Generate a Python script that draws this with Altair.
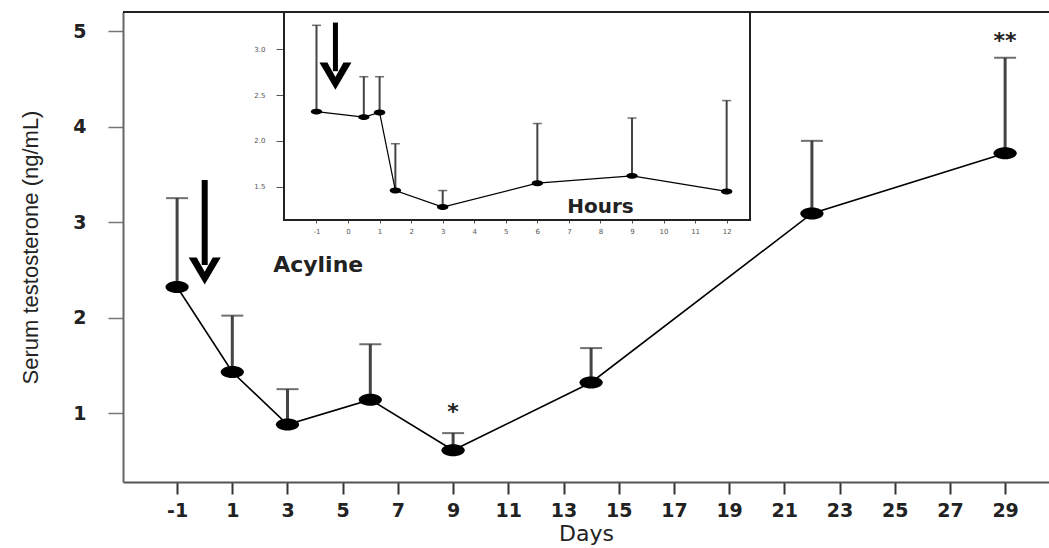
import altair as alt
import pandas as pd

# ---------------- main series (days) ----------------
days = [-1, 1, 3, 6, 9, 14, 22, 29]
testosterone = [2.32, 1.43, 0.88, 1.14, 0.61, 1.32, 3.09, 3.72]
upper_sd = [3.25, 2.02, 1.25, 1.72, 0.79, 1.68, 3.85, 4.72]

x_ticks = list(range(-1, 30, 2))
y_ticks = [1, 2, 3, 4, 5]
x_domain = [-2.96, 30.59]
y_domain = [0.278, 5.199]

sig_days = [9, 29]
sig_vals = [1.01, 4.90]
sig_text = ["*", "**"]

arrow_day = [0]
arrow_top = [3.44]
arrow_end = [2.55]
arrow_head = [2.487]

acyline_day = [2.48]
acyline_val = [2.55]
acyline_text = ["Acyline"]

# ---------------- inset series (hours) ----------------
hours = [-1, 0.5, 1, 1.5, 3, 6, 9, 12]
inset_t = [2.32, 2.26, 2.31, 1.46, 1.28, 1.54, 1.62, 1.45]
inset_upper = [3.26, 2.70, 2.70, 1.97, 1.46, 2.19, 2.25, 2.44]

inset_x_ticks = list(range(-1, 13))
inset_y_ticks = [1.5, 2.0, 2.5, 3.0]
inset_x_domain = [-2.03, 12.74]
inset_y_domain = [1.139, 3.405]

inset_arrow_hour = [-0.4]
inset_arrow_top = [3.29]
inset_arrow_end = [2.76]
inset_arrow_head = [2.706]

hours_label_x = [8]
hours_label_y = [1.28]

ELLIPSE = "M -1 0 A 1 0.52 0 1 1 1 0 A 1 0.52 0 1 1 -1 0 Z"
ARROWHEAD = "M -1 -0.85 L -0.5 -0.85 L 0 0.05 L 0.5 -0.85 L 1 -0.85 L 0 0.85 Z"
MINUS = "datum.value < 0 ? '-' + abs(datum.value) : datum.label"

# ---------------- main layer ----------------
df = pd.DataFrame({"day": days, "t": testosterone, "up": upper_sd})
xs = alt.Scale(domain=x_domain, nice=False, zero=False)
ys = alt.Scale(domain=y_domain, nice=False, zero=False)

x_axis = alt.Axis(values=x_ticks, title="Days", labelExpr=MINUS, tickSize=12,
                  labelPadding=7, labelFont="DejaVu Sans", labelFontWeight="bold",
                  labelFontSize=19, labelColor="#222", tickColor="#333", tickWidth=2,
                  domainColor="#555", domainWidth=2, titleFont="DejaVu Sans",
                  titleFontSize=22, titleFontWeight="normal", titleColor="#222",
                  titlePadding=3, grid=False)
y_axis = alt.Axis(values=y_ticks, title="Serum testosterone (ng/mL)", tickSize=15,
                  labelPadding=22, labelFont="DejaVu Sans", labelFontWeight="bold",
                  labelFontSize=19, labelColor="#222", tickColor="#777", tickWidth=1.5,
                  domainColor="#666", domainWidth=2,
                  titleFont="Liberation Sans Narrow, Liberation Sans", titleFontSize=22,
                  titleFontWeight="normal", titleColor="#222", titlePadding=30, grid=False)

X = alt.X("day:Q", scale=xs, axis=x_axis)

bars = alt.Chart(df).mark_rule(color="#444", strokeWidth=3).encode(
    x=X, y=alt.Y("t:Q", scale=ys, axis=y_axis), y2="up:Q")
caps = alt.Chart(df).mark_tick(orient="horizontal", size=22, thickness=2, color="#333").encode(
    x=X, y=alt.Y("up:Q", scale=ys, axis=y_axis))
line = alt.Chart(df).mark_line(color="black", strokeWidth=1.6).encode(
    x=X, y=alt.Y("t:Q", scale=ys, axis=y_axis))
pts = alt.Chart(df).mark_point(shape=ELLIPSE, size=540, filled=True, color="black", opacity=1).encode(
    x=X, y=alt.Y("t:Q", scale=ys, axis=y_axis))

top_df = pd.DataFrame({"x0": [x_domain[0]], "x1": [x_domain[1]], "y": [y_domain[1]]})
top_line = alt.Chart(top_df).mark_rule(color="#222", strokeWidth=2).encode(
    x=alt.X("x0:Q", scale=xs, axis=x_axis), x2="x1:Q", y=alt.Y("y:Q", scale=ys, axis=y_axis))

sig_df = pd.DataFrame({"day": sig_days, "v": sig_vals, "s": sig_text})
sig = alt.Chart(sig_df).mark_text(font="DejaVu Sans", fontSize=22, fontWeight="bold",
                                  baseline="middle", color="#222").encode(
    x=X, y=alt.Y("v:Q", scale=ys, axis=y_axis), text="s:N")

arr_df = pd.DataFrame({"day": arrow_day, "top": arrow_top, "end": arrow_end, "head": arrow_head})
arr_shaft = alt.Chart(arr_df).mark_rule(color="black", strokeWidth=6).encode(
    x=X, y=alt.Y("top:Q", scale=ys, axis=y_axis), y2="end:Q")
arr_head = alt.Chart(arr_df).mark_point(shape=ARROWHEAD, size=1024, filled=True, color="black",
                                        opacity=1).encode(
    x=X, y=alt.Y("head:Q", scale=ys, axis=y_axis))

acy_df = pd.DataFrame({"day": acyline_day, "v": acyline_val, "s": acyline_text})
acy = alt.Chart(acy_df).mark_text(font="DejaVu Sans", fontSize=22, fontWeight="bold",
                                  align="left", baseline="middle", color="#222").encode(
    x=X, y=alt.Y("v:Q", scale=ys, axis=y_axis), text="s:N")

main = alt.layer(top_line, bars, caps, line, pts, sig, arr_shaft, arr_head, acy)

# ---------------- inset layer ----------------
idf = pd.DataFrame({"h": hours, "t": inset_t, "up": inset_upper})
ixs = alt.Scale(domain=inset_x_domain, range=[161, 627], nice=False, zero=False)
iys = alt.Scale(domain=inset_y_domain, range=[208, 0], nice=False, zero=False)

ix_axis = alt.Axis(values=inset_x_ticks, orient="bottom", offset=-262, domain=False,
                   tickSize=3, labelPadding=4, labelFontSize=7, labelColor="#555",
                   labelExpr=MINUS, labelFont="DejaVu Sans", tickColor="#555",
                   title=None, grid=False)
iy_axis = alt.Axis(values=inset_y_ticks, orient="left", offset=-161, domain=False,
                   tickSize=8, labelPadding=11, labelFontSize=7, labelColor="#555",
                   format=".1f", labelFont="DejaVu Sans", tickColor="#555",
                   title=None, grid=False)
IX = alt.X("h:Q", scale=ixs, axis=ix_axis)

frame_df = pd.DataFrame({"x0": [inset_x_domain[0]], "x1": [inset_x_domain[1]],
                         "y0": [inset_y_domain[0]], "y1": [inset_y_domain[1]]})
frame = alt.Chart(frame_df).mark_rect(fill="white", stroke="#222", strokeWidth=2).encode(
    x=alt.X("x0:Q", scale=ixs, axis=ix_axis), x2="x1:Q",
    y=alt.Y("y0:Q", scale=iys, axis=iy_axis), y2="y1:Q")

ibars = alt.Chart(idf).mark_rule(color="#444", strokeWidth=2).encode(
    x=IX, y=alt.Y("t:Q", scale=iys, axis=iy_axis), y2="up:Q")
icaps = alt.Chart(idf).mark_tick(orient="horizontal", size=9, thickness=1.5, color="#333").encode(
    x=IX, y=alt.Y("up:Q", scale=iys, axis=iy_axis))
iline = alt.Chart(idf).mark_line(color="black", strokeWidth=1.2).encode(
    x=IX, y=alt.Y("t:Q", scale=iys, axis=iy_axis))
ipts = alt.Chart(idf).mark_point(shape=ELLIPSE, size=130, filled=True, color="black", opacity=1).encode(
    x=IX, y=alt.Y("t:Q", scale=iys, axis=iy_axis))

iarr_df = pd.DataFrame({"h": inset_arrow_hour, "top": inset_arrow_top, "end": inset_arrow_end,
                        "head": inset_arrow_head})
iarr_shaft = alt.Chart(iarr_df).mark_rule(color="black", strokeWidth=5).encode(
    x=IX, y=alt.Y("top:Q", scale=iys, axis=iy_axis), y2="end:Q")
iarr_head = alt.Chart(iarr_df).mark_point(shape=ARROWHEAD, size=1024, filled=True, color="black",
                                          opacity=1).encode(
    x=IX, y=alt.Y("head:Q", scale=iys, axis=iy_axis))

hrs_df = pd.DataFrame({"h": hours_label_x, "v": hours_label_y, "s": ["Hours"]})
hrs = alt.Chart(hrs_df).mark_text(font="DejaVu Sans", fontSize=20, fontWeight="bold",
                                  align="center", baseline="middle", color="#222").encode(
    x=IX, y=alt.Y("v:Q", scale=iys, axis=iy_axis), text="s:N")

inset = alt.layer(frame, ibars, icaps, iline, ipts, iarr_shaft, iarr_head, hrs)

chart = alt.layer(main, inset).resolve_scale(x="independent", y="independent").properties(
    width=926, height=470, autosize="none",
    padding={"left": 123, "top": 12, "right": 0, "bottom": 66},
    background="white",
).configure_view(stroke=None)

chart.save("out.html", embed_options={"renderer": "svg", "actions": False})
